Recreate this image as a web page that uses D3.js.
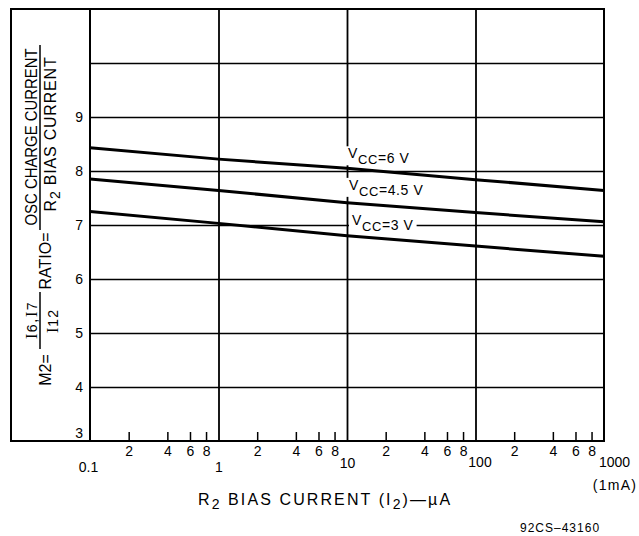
<!DOCTYPE html>
<html>
<head>
<meta charset="utf-8">
<script src="https://cdn.jsdelivr.net/npm/d3@7"></script>
<style>
  html, body { margin: 0; padding: 0; background: #fff; }
  svg { display: block; }
  text { font-family: "Liberation Sans", Arial, Helvetica, sans-serif; fill: #000; }
</style>
</head>
<body>
<svg id="chart" width="639" height="536"></svg>
<script>
// ---- data ----
const xPoints = [0.1, 1, 10, 100, 1000];          // R2 bias current, µA
const vcc6  = [8.43, 8.22, 8.05, 7.84, 7.64];
const vcc45 = [7.85, 7.64, 7.41, 7.23, 7.06];
const vcc3  = [7.25, 7.03, 6.80, 6.61, 6.42];
const seriesNames = ["=6 V", "=4.5 V", "=3 V"];
const yTickValues = [3, 4, 5, 6, 7, 8, 9];
const yGridValues = [4, 5, 6, 7, 8, 9, 10];
const majorTicks = [0.1, 1, 10, 100, 1000];
const majorLabels = ["0.1", "1", "10", "100", "1000"];
const minorTicks = [0.2, 0.4, 0.6, 0.8, 2, 4, 6, 8, 20, 40, 60, 80, 200, 400, 600, 800];

// ---- layout ----
const L = 90, R = 604, T = 9, B = 441;
const svg = d3.select("#chart");
const x = d3.scaleLog().domain([0.1, 1000]).range([L, R]);
const y = d3.scaleLinear().domain([3, 11]).range([B, T]);

// horizontal grid
svg.append("g").attr("transform", `translate(${L},0)`)
  .call(d3.axisLeft(y).tickValues(yGridValues).tickSize(-(R - L)).tickFormat(""))
  .call(g => g.select(".domain").remove())
  .call(g => g.selectAll("line").attr("stroke", "#000").attr("stroke-width", 1.4));

// vertical decade grid
svg.append("g").attr("transform", `translate(0,${B})`)
  .call(d3.axisBottom(x).tickValues([1, 10, 100]).tickSize(-(B - T)).tickFormat(""))
  .call(g => g.select(".domain").remove())
  .call(g => g.selectAll("line").attr("stroke", "#000").attr("stroke-width", 1.8));

// minor ticks (pointing up) with labels below
const minorAxis = svg.append("g").attr("transform", `translate(0,${B})`)
  .call(d3.axisBottom(x).tickValues(minorTicks).tickSize(-9).tickPadding(16)
    .tickFormat(d => String(Math.round(d / Math.pow(10, Math.floor(Math.log10(d) + 1e-9))))))
  .call(g => g.select(".domain").remove())
  .call(g => g.selectAll("line").attr("stroke", "#000").attr("stroke-width", 1.5));
minorAxis.selectAll("text").attr("font-size", 14).attr("font-family", "Liberation Sans, Arial, sans-serif")
  .attr("y", 5).attr("dy", "0.71em");

// major labels
const majorDx = [-2, 0, 0, 4, 10];
const majorDy = [0, 0, -4, -5, -5];
const majorAxis = svg.append("g").attr("transform", `translate(0,${B})`)
  .call(d3.axisBottom(x).tickValues(majorTicks).tickSize(0)
    .tickFormat((d, i) => majorLabels[i]))
  .call(g => g.select(".domain").remove());
majorAxis.selectAll("text")
  .attr("font-size", 14).attr("font-family", "Liberation Sans, Arial, sans-serif")
  .attr("y", (d, i) => 21 + majorDy[i]).attr("dy", "0.71em")
  .attr("dx", (d, i) => majorDx[i]);
svg.append("text").attr("x", x(1000) + 11).attr("y", 490)
  .attr("text-anchor", "middle").attr("font-size", 14).attr("letter-spacing", 1.3).text("(1mA)");

// y labels
const yAxis = svg.append("g").attr("transform", `translate(${L},0)`)
  .call(d3.axisLeft(y).tickValues(yTickValues).tickSize(0).tickPadding(7))
  .call(g => g.select(".domain").remove());
yAxis.selectAll("text").attr("font-size", 14).attr("font-family", "Liberation Sans, Arial, sans-serif")
  .attr("dy", d => d === 3 ? "-0.25em" : "0.34em");

// frame
svg.append("rect").attr("x", 11).attr("y", T).attr("width", R - 11).attr("height", B - T)
  .attr("fill", "none").attr("stroke", "#000").attr("stroke-width", 2);
svg.append("line").attr("x1", L).attr("x2", L).attr("y1", T).attr("y2", B)
  .attr("stroke", "#000").attr("stroke-width", 2);

// curves
const line = d3.line().x(d => x(d[0])).y(d => y(d[1]));
[vcc6, vcc45, vcc3].forEach(s => {
  svg.append("path").datum(xPoints.map((xv, i) => [xv, s[i]]))
    .attr("d", line).attr("fill", "none").attr("stroke", "#000").attr("stroke-width", 3);
});

// curve labels with white background
const labelInfo = [
  { s: vcc6, name: seriesNames[0], dx: 1, off: 10 },
  { s: vcc45, name: seriesNames[1], dx: 2, off: 13 },
  { s: vcc3, name: seriesNames[2], dx: 5, off: 11 }
];
labelInfo.forEach(li => {
  const bx = x(10) + li.dx;
  const by = y(li.s[2]) - li.off;
  const g = svg.append("g");
  const rect = g.append("rect").attr("fill", "#fff");
  const t = g.append("text").attr("x", bx).attr("y", by).attr("font-size", 14).attr("letter-spacing", 0.6);
  t.append("tspan").text("V");
  t.append("tspan").attr("dy", 6).attr("font-size", 13).text("CC");
  t.append("tspan").attr("dy", -1).text(li.name);
  const bb = t.node().getBBox();
  rect.attr("x", bx - 3).attr("y", by - 12).attr("width", bb.width + 6).attr("height", 19);
});

// x axis title
const xt = svg.append("text").attr("x", 198).attr("y", 505).attr("font-size", 16).attr("letter-spacing", 2.1);
xt.append("tspan").text("R");
xt.append("tspan").attr("dy", 4).attr("font-size", 14).text("2");
xt.append("tspan").attr("dy", -4).text(" BIAS CURRENT (I");
xt.append("tspan").attr("dy", 4).attr("font-size", 14).text("2");
xt.append("tspan").attr("dy", -4).text(")—µA");

// footer
svg.append("text").attr("x", 520).attr("y", 532).attr("font-size", 12).attr("letter-spacing", 1).text("92CS–43160");

// y-axis title (rotated)
function rot(bx, cy, fs) {
  return svg.append("text").attr("transform", `translate(${bx},${cy}) rotate(-90)`)
    .attr("text-anchor", "middle").attr("font-size", fs);
}
const m2 = rot(51, 370, 16); m2.text("M2=");
const n1 = rot(37, 320, 16).attr("letter-spacing", 1.5);
n1.append("tspan").attr("font-family", "Liberation Serif, serif").text("I");
n1.append("tspan").attr("font-size", 14).text("6");
n1.append("tspan").text(",");
n1.append("tspan").attr("font-family", "Liberation Serif, serif").text("I");
n1.append("tspan").attr("font-size", 14).text("7");
const d1 = rot(58, 321, 16).attr("letter-spacing", 1);
d1.append("tspan").attr("font-family", "Liberation Serif, serif").text("I");
d1.append("tspan").attr("font-size", 14).text("12");
svg.append("line").attr("x1", 40).attr("x2", 40).attr("y1", 292).attr("y2", 349)
  .attr("stroke", "#000").attr("stroke-width", 1.5);
const ra = rot(51, 261, 16); ra.text("RATIO=");
svg.append("line").attr("x1", 40).attr("x2", 40).attr("y1", 45).attr("y2", 230)
  .attr("stroke", "#000").attr("stroke-width", 1.5);
const n2 = rot(37, 137, 16).attr("textLength", 177).attr("lengthAdjust", "spacingAndGlyphs");
n2.text("OSC CHARGE CURRENT");
const d2 = rot(56, 134, 16).attr("letter-spacing", 0.8);
d2.append("tspan").text("R");
d2.append("tspan").attr("dy", 4).attr("font-size", 14).text("2");
d2.append("tspan").attr("dy", -4).text(" BIAS CURRENT");
</script>
</body>
</html>
